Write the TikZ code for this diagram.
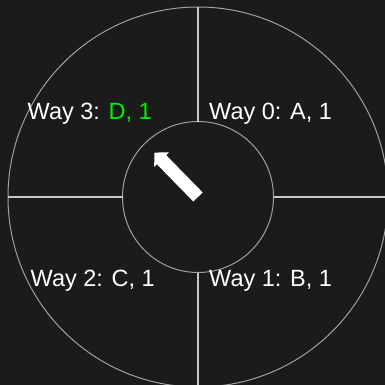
\documentclass[tikz,border=0pt]{standalone}
\usepackage{fontspec}
\setmainfont{Liberation Sans}
\usetikzlibrary{arrows.meta}
\definecolor{bgDark}{HTML}{1B1B1B}
\definecolor{ringGray}{HTML}{A0A0A0}
\definecolor{spokeGray}{HTML}{C8C8C8}
\definecolor{hitGreen}{HTML}{00F000}
\tikzset{
  ring/.style={circle, draw=ringGray, line width=1pt, inner sep=0pt, outer sep=0pt},
  spoke/.style={draw=spokeGray, line width=2pt},
  wayLabel/.style={anchor=base west, text=white, inner sep=0pt,
                   font=\fontsize{23.5}{28}\selectfont},
  pointer/.style={draw=white, line width=13pt, -{Triangle[width=20pt,length=10pt]}},
}

\begin{document}
\begin{tikzpicture}[x=1pt, y=-1pt]
  \fill[bgDark] (0,0) rectangle (385,385);
  \useasboundingbox (0,0) rectangle (385,385);
  \clip (0,0) rectangle (385,385);
  \node[ring, minimum size=380pt] (outer) at (198,197) {};
  \node[ring, minimum size=151pt] (hub) at (198,197) {};
  \draw[spoke] (outer.north) -- (hub.north);
  \draw[spoke] (hub.south) -- (outer.south);
  \draw[spoke] (outer.west) -- (hub.west);
  \draw[spoke] (hub.east) -- (outer.east);
  \coordinate (tip) at (154.5,152.5);
  \draw[pointer] (hub.center) -- (tip);
  \node[wayLabel] (way0) at (209,119.5) {Way 0: A, 1};
  \node[wayLabel] (way1) at (209,286) {Way 1: B, 1};
  \node[wayLabel] (way2) at (30.5,286) {Way 2: C, 1};
  \node[wayLabel] (way3) at (27.5,119.5) {Way 3: \textcolor{hitGreen}{D, 1}};
\end{tikzpicture}
\end{document}
